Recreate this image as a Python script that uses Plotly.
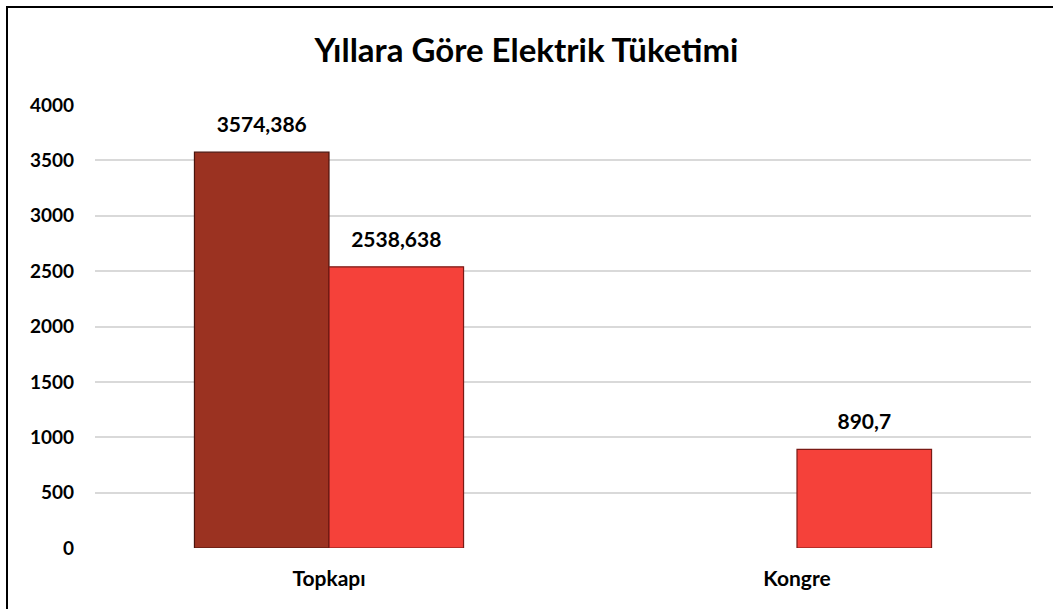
import plotly.graph_objects as go

categories = ["Topkapı", "Kongre"]
series1 = [3574.386, None]
series2 = [2538.638, 890.7]
tick_vals = [0, 500, 1000, 1500, 2000, 2500, 3000, 3500, 4000]
title_text = "Yıllara Göre Elektrik Tüketimi"

def fmt(v):
    return "" if v is None else repr(v).replace(".", ",")

FONT = "Lato"
colors = ["#9B3221", "#F5413A"]
edges = ["#4a130c", "#7a1a14"]
series = [series1, series2]

fig = go.Figure()
for s, c, e in zip(series, colors, edges):
    fig.add_trace(go.Bar(
        x=categories, y=s,
        marker=dict(color=c, line=dict(color=e, width=1.2)),
    ))
# data labels, grouped the same way as the bars
for s in series:
    fig.add_trace(go.Scatter(
        x=categories, y=s, mode="markers+text", text=[fmt(v) for v in s],
        textposition="top center", cliponaxis=False,
        marker=dict(size=22, opacity=0),
        textfont=dict(family=FONT, size=21, color="black", weight="bold"),
        hoverinfo="skip",
    ))

L, R, T, B = 95, 22, 105, 61
W, H = 1053, 609
pw, ph = W - L - R, H - T - B

fig.update_layout(
    width=W, height=H,
    margin=dict(l=L, r=R, t=T, b=B),
    paper_bgcolor="white", plot_bgcolor="white",
    barmode="group", bargap=0.425, bargroupgap=0,
    scattermode="group", scattergap=0.425,
    showlegend=False,
    title=dict(text=title_text, x=0.5, xanchor="center", y=1 - 50 / H, yanchor="middle",
               font=dict(family=FONT, size=33, color="black", weight="bold")),
    xaxis=dict(
        type="category",
        showgrid=False, showline=False, ticks="", ticklabelstandoff=16,
        tickfont=dict(family=FONT, size=21, color="black", weight="bold"),
    ),
    yaxis=dict(
        range=[0, 4000], tickvals=tick_vals, showgrid=True, gridcolor="#D9D9D9", gridwidth=1.5,
        zeroline=False, showline=False, ticks="", ticklabelstandoff=20,
        tickfont=dict(family=FONT, size=19, color="black", weight="bold"),
    ),
    shapes=[dict(
        type="rect", xref="paper", yref="paper",
        x0=(7 - L) / pw, x1=(W + 20 - L) / pw,
        y0=-(H + 20 - (H - B)) / ph, y1=(H - B - 7) / ph,
        line=dict(color="black", width=2), fillcolor="rgba(0,0,0,0)", layer="above",
    )],
)

fig.write_html("out.html", config={"displayModeBar": False},
               post_script="document.body.style.margin='0';")
